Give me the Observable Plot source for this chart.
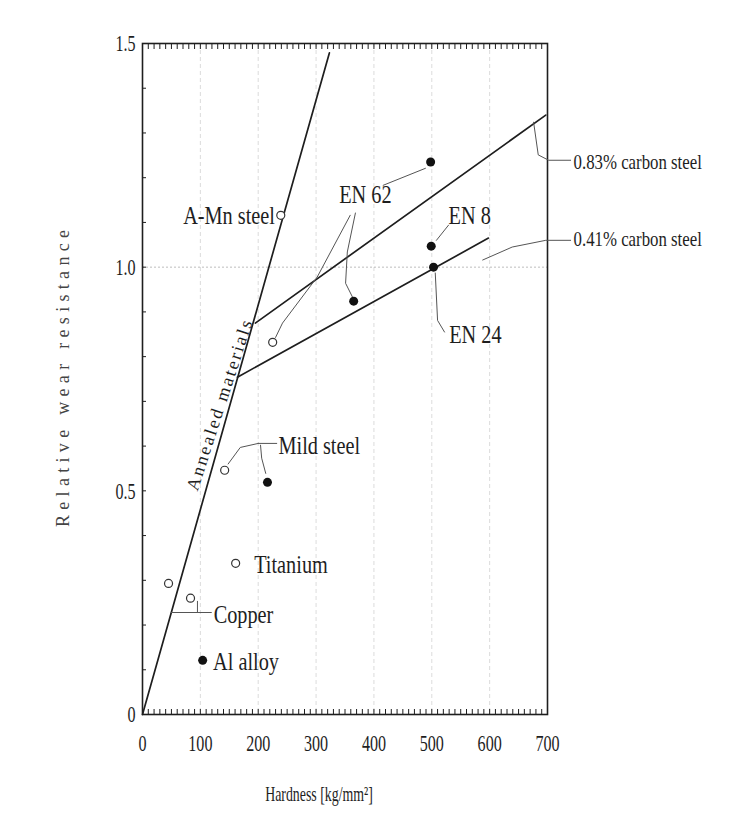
<!DOCTYPE html>
<html>
<head>
<meta charset="utf-8">
<script src="https://cdn.jsdelivr.net/npm/d3@7"></script>
<script src="https://cdn.jsdelivr.net/npm/@observablehq/plot@0.6"></script>
<style>
  html, body { margin: 0; padding: 0; background: #fff; }
  #chart { width: 734px; height: 824px; }
</style>
</head>
<body>
<div id="chart"></div>
<script>
// ---- Axes ----
const xTicks = [0, 100, 200, 300, 400, 500, 600, 700];
const yTicks = [0, 0.5, 1.0, 1.5];
const yTickLabels = ["0", "0.5", "1.0", "1.5"];
const xMinor = d3.range(0, 701, 10);
const yMinor = d3.range(0, 1.501, 0.1);
const xGrid = [100, 200, 300, 400, 500, 600];
const yGrid = [1.0];
const xLabel = "Hardness [kg/mm²]";
const yLabel = "Relative wear resistance";

// ---- Trend lines (hardness, relative wear resistance) ----
const lineNames    = ["Annealed materials", "Annealed materials", "0.83% carbon steel", "0.83% carbon steel", "0.41% carbon steel", "0.41% carbon steel"];
const lineHardness = [0, 323, 195, 697, 164, 598];
const lineWear     = [0, 1.479, 0.875, 1.340, 0.754, 1.065];

// ---- Filled points ----
const filledNames    = ["EN 62", "EN 8", "EN 24", "EN 62 (hardened)", "Mild steel", "Al alloy"];
const filledHardness = [498, 499, 503, 365, 216, 104];
const filledWear     = [1.235, 1.047, 1.0, 0.924, 0.519, 0.121];

// ---- Open points ----
const openNames    = ["A-Mn steel", "EN 62 (annealed)", "Mild steel (annealed)", "Titanium", "Copper", "Copper (2)"];
const openHardness = [239, 225, 142, 161, 45, 83];
const openWear     = [1.116, 0.832, 0.546, 0.338, 0.293, 0.260];

// ---- Labels ----
const labelText     = ["A-Mn steel", "EN 62", "EN 8", "EN 24", "Mild steel", "Titanium", "Copper", "Al alloy"];
const labelHardness = [229, 340, 529, 530, 235, 193, 123, 122];
const labelWear     = [1.116, 1.161, 1.116, 0.848, 0.600, 0.336, 0.224, 0.119];
const labelAnchor   = ["end", "start", "start", "start", "start", "start", "start", "start"];
const steelLabelText     = ["0.83% carbon steel", "0.41% carbon steel"];
const steelLabelHardness = [745, 745];
const steelLabelWear     = [1.235, 1.063];
const annealedLabel = { text: "Annealed materials", hardness: 133, wear: 0.691 };

// ---- Leader lines ----
const leaderId       = [1,1, 2,2,2,2, 3,3,3,3, 4,4, 5,5,5, 6,6,6,6, 7,7,7,7, 8,8, 9,9,9, 10,10,10, 11,11,11, 12,12];
const leaderHardness = [416,489, 368,354,351,363, 359,302,242,230, 529,508, 506,510,522, 676,684,702,740, 588,639,697,740, 200,232, 200,169,148, 204,206,213, 50,95,95, 95,119];
const leaderWear     = [1.183,1.221, 1.121,1.034,0.964,0.933, 1.116,0.978,0.875,0.843, 1.094,1.060, 0.987,0.881,0.855, 1.324,1.251,1.239,1.239, 1.016,1.045,1.060,1.060, 0.606,0.606, 0.606,0.597,0.560, 0.602,0.573,0.539, 0.228,0.228,0.253, 0.228,0.228];

// ---- Tables ----
const lines = lineNames.map((n, i) => ({name: n, h: lineHardness[i], w: lineWear[i]}));
const filled = filledNames.map((n, i) => ({name: n, h: filledHardness[i], w: filledWear[i]}));
const open = openNames.map((n, i) => ({name: n, h: openHardness[i], w: openWear[i]}));
const labels = labelText.map((t, i) => ({t, h: labelHardness[i], w: labelWear[i], a: labelAnchor[i]}));
const steelLabels = steelLabelText.map((t, i) => ({t, h: steelLabelHardness[i], w: steelLabelWear[i]}));
const leaders = leaderId.map((id, i) => ({id, h: leaderHardness[i], w: leaderWear[i]}));

const font = "'Liberation Serif', 'DejaVu Serif', serif";
const ink = "#1e1e1e";

const chart = Plot.plot({
  width: 734,
  height: 824,
  marginLeft: 142,
  marginRight: 187,
  marginTop: 43,
  marginBottom: 110,
  style: {fontFamily: font, fontSize: "16px", color: ink, background: "#fff"},
  x: {domain: [0, 700]},
  y: {domain: [0, 1.5]},
  marks: [
    Plot.gridX(xGrid, {stroke: "#999", strokeOpacity: 0.35, strokeDasharray: "4,3"}),
    Plot.gridY(yGrid, {stroke: "#888", strokeOpacity: 0.55, strokeDasharray: "2,2"}),
    Plot.axisX({anchor: "bottom", ticks: xMinor, tickSize: -5, tickFormat: () => "", label: null, stroke: ink}),
    Plot.axisX({anchor: "top", ticks: xMinor, tickSize: -5, tickFormat: () => "", label: null, stroke: ink}),
    Plot.axisY({anchor: "left", ticks: yMinor, tickSize: -4, tickFormat: () => "", label: null, stroke: ink}),
    Plot.axisX({anchor: "bottom", ticks: xTicks, tickSize: 0, tickPadding: 19, tickFormat: d => String(d), label: null, fontSize: 24, fill: ink}),
    Plot.axisY({anchor: "left", ticks: yTicks, tickSize: 0, tickPadding: 7, tickFormat: (d, i) => yTickLabels[i], label: null, fontSize: 24, fill: ink}),
    Plot.frame({stroke: ink, strokeWidth: 1.6}),
    Plot.line(lines, {x: "h", y: "w", z: "name", stroke: ink, strokeWidth: 1.7}),
    Plot.line(leaders, {x: "h", y: "w", z: "id", stroke: "#555", strokeWidth: 1}),
    Plot.dot(filled, {x: "h", y: "w", r: 4.5, fill: "#111", stroke: "none"}),
    Plot.dot(open, {x: "h", y: "w", r: 4, fill: "#fff", stroke: "#333", strokeWidth: 1.2}),
    Plot.text(labels.filter(d => d.a === "start"), {x: "h", y: "w", text: "t", textAnchor: "start", fontSize: 26, fill: ink}),
    Plot.text(labels.filter(d => d.a === "end"), {x: "h", y: "w", text: "t", textAnchor: "end", fontSize: 26, fill: ink}),
    Plot.text(steelLabels, {x: "h", y: "w", text: "t", textAnchor: "start", fontSize: 21, fill: ink}),
    Plot.text([annealedLabel], {x: "hardness", y: "wear", text: "text", rotate: -72, fontSize: 18, fill: ink}),
    Plot.text([xLabel], {text: d => d, frameAnchor: "bottom", dy: 86, dx: -26, fontSize: 22, fill: ink}),
    Plot.text([yLabel], {text: d => d, frameAnchor: "left", textAnchor: "start", rotate: -90, dx: -79, dy: 148, fontSize: 18, fill: "#444"})
  ]
});
document.getElementById("chart").appendChild(chart);

// Scanned-print look: glyphs are tall and narrow. Squeeze (or spread) texts with textLength.
const squeeze = new Map();
labelText.forEach(t => squeeze.set(t, {sx: 0.78}));
steelLabelText.forEach(t => squeeze.set(t, {sx: 0.8}));
xTicks.forEach(t => squeeze.set(String(t), {sx: 0.67}));
yTickLabels.forEach(t => squeeze.set(t, {sx: 0.67}));
squeeze.set(xLabel, {sx: 0.63});
squeeze.set(yLabel, {len: 297, adjust: "spacing"});
squeeze.set(annealedLabel.text, {len: 178, adjust: "spacing"});
chart.querySelectorAll("text").forEach(t => {
  const s = squeeze.get(t.textContent);
  if (!s) return;
  const w = t.getComputedTextLength();
  if (!w) return;
  t.setAttribute("textLength", s.len ?? w * s.sx);
  t.setAttribute("lengthAdjust", s.adjust ?? "spacingAndGlyphs");
});
</script>
</body>
</html>
